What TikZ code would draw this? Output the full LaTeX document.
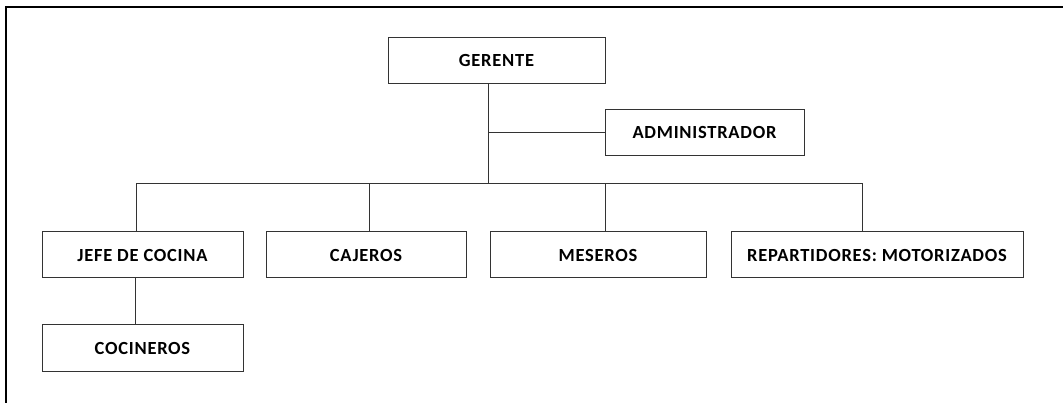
\documentclass[tikz,border=0pt]{standalone}
\usepackage{fontspec}
\setmainfont{Carlito}
\newfontfamily\orgfont[LetterSpace=4]{Carlito}
\usetikzlibrary{positioning}

\begin{document}
\begin{tikzpicture}[
  x=1pt, y=-1pt,
  box/.style={draw=black!80,line width=1pt,inner sep=0pt,minimum height=46pt,
    font=\orgfont\bfseries\fontsize{18.5}{22}\selectfont},
  conn/.style={draw=black!80,line width=1pt},
  frame/.style={line width=2pt,line cap=rect},
  node distance=22pt
]
\useasboundingbox (0,0) rectangle (1063,403);
\draw[frame] (6,403) -- (6,7) -- (1063,7);

\node[box, minimum width=217pt] (gerente) at (496.5,60.5) {GERENTE};
\node[box, minimum width=199pt] (admin) at (704.5,132.5) {ADMINISTRADOR};

\node[box, minimum width=201pt] (jefe) at (142.5,255) {JEFE DE COCINA};
\node[box, minimum width=200pt, right=22pt of jefe] (cajeros) {CAJEROS};
\node[box, minimum width=216pt, right=23pt of cajeros] (meseros) {MESEROS};
\node[box, minimum width=292pt, right=24pt of meseros] (repart) {REPARTIDORES: MOTORIZADOS};
\node[box, minimum width=201pt, below=46pt of jefe] (cocineros) {COCINEROS};

\coordinate (hub) at (488,184);

\draw[conn] ([xshift=-8.5pt]gerente.south) -- (hub);
\draw[conn] (hub |- admin.west) -- (admin.west);
\draw[conn] ([xshift=-6pt]jefe.north) |- ([xshift=-15pt]repart.north |- hub) -- ([xshift=-15pt]repart.north);
\draw[conn] ([xshift=3pt]cajeros.north) -- ([xshift=3pt]cajeros.north |- hub);
\draw[conn] ([xshift=7pt]meseros.north) -- ([xshift=7pt]meseros.north |- hub);
\draw[conn] ([xshift=-7pt]jefe.south) -- ([xshift=-7pt]cocineros.north);
\end{tikzpicture}
\end{document}
